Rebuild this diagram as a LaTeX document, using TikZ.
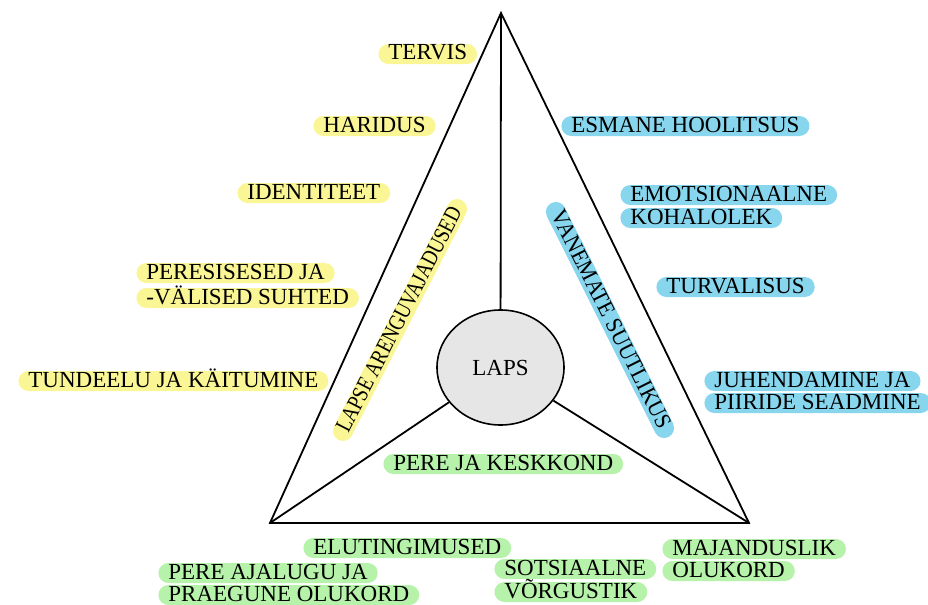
\documentclass[tikz,border=0pt]{standalone}
\usepackage{fontspec}
\setmainfont{Liberation Serif}
\definecolor{devyellow}{RGB}{250, 246, 150}
\definecolor{parentblue}{RGB}{135, 214, 238}
\definecolor{famgreen}{RGB}{182, 242, 170}
\definecolor{lapsgray}{RGB}{230, 230, 230}
\usepackage{tikz}
\usetikzlibrary{shapes.geometric}

\begin{document}
\begin{tikzpicture}[x=0.5pt, y=-0.5pt,
  tag/.style={rounded corners=5pt, inner xsep=5pt, inner ysep=0pt, text height=8pt,
    text depth=2pt, font=\fontsize{11.5}{13}\selectfont, anchor=west},
  ytag/.style={tag, fill=devyellow},
  btag/.style={tag, fill=parentblue},
  gtag/.style={tag, fill=famgreen},
  edge/.style={line width=0.9pt}
]
  \useasboundingbox (0,0) rectangle (928,605);

  % triangle
  \coordinate (top) at (501,13);
  \coordinate (bl) at (270,523);
  \coordinate (br) at (749,523);
  \draw[edge, line join=miter] (top) -- (bl) -- (br) -- cycle;

  \node[draw, ellipse, line width=0.8pt, fill=lapsgray, minimum width=63.5pt,
    minimum height=57.5pt, font=\fontsize{11.5}{13}\selectfont] (laps) at (500.5,367.5) {LAPS};
  \draw[edge] (top) -- (laps);
  \draw[edge] (laps) -- (bl);
  \draw[edge] (laps) -- (br);

  % side labels
  \node[ytag, anchor=center, rotate=62.8] (arengu) at (400,320)
    {\scalebox{0.82}[1]{LAPSE ARENGUVAJADUSED}};
  \node[btag, anchor=center, rotate=-63.4] (suutlikus) at (610,320)
    {\scalebox{0.94}[1]{VANEMATE SUUTLIKUS}};
  \node[gtag] (keskkond) at (383,464) {PERE JA KESKKOND};

  % lapse arenguvajadused
  \node[ytag] (tervis) at (378,54) {TERVIS};
  \node[ytag] (haridus) at (313,126) {HARIDUS};
  \node[ytag] (identiteet) at (237,193) {IDENTITEET};
  \node[ytag] (suhted1) at (136,273) {PERESISESED JA};
  \node[ytag] (suhted2) at (136,298) {-VÄLISED SUHTED};
  \node[ytag] (tundeelu) at (18,381) {TUNDEELU JA KÄITUMINE};

  % vanemate suutlikus
  \node[btag] (esmane) at (561,126) {ESMANE HOOLITSUS};
  \node[btag] (emots1) at (620,195) {EMOTSIONAALNE};
  \node[btag] (emots2) at (620,218) {KOHALOLEK};
  \node[btag] (turva) at (656,287) {TURVALISUS};
  \node[btag] (juhend1) at (704,381) {JUHENDAMINE JA};
  \node[btag] (juhend2) at (704,403) {PIIRIDE SEADMINE};

  % pere ja keskkond
  \node[gtag] (elu) at (303,548) {ELUTINGIMUSED};
  \node[gtag] (ajalugu1) at (158,573) {PERE AJALUGU JA};
  \node[gtag] (ajalugu2) at (158,595) {PRAEGUNE OLUKORD};
  \node[gtag] (sots1) at (494,569) {SOTSIAALNE};
  \node[gtag] (sots2) at (494,592) {VÕRGUSTIK};
  \node[gtag] (majand1) at (662,549) {MAJANDUSLIK};
  \node[gtag] (majand2) at (662,571) {OLUKORD};
\end{tikzpicture}
\end{document}
